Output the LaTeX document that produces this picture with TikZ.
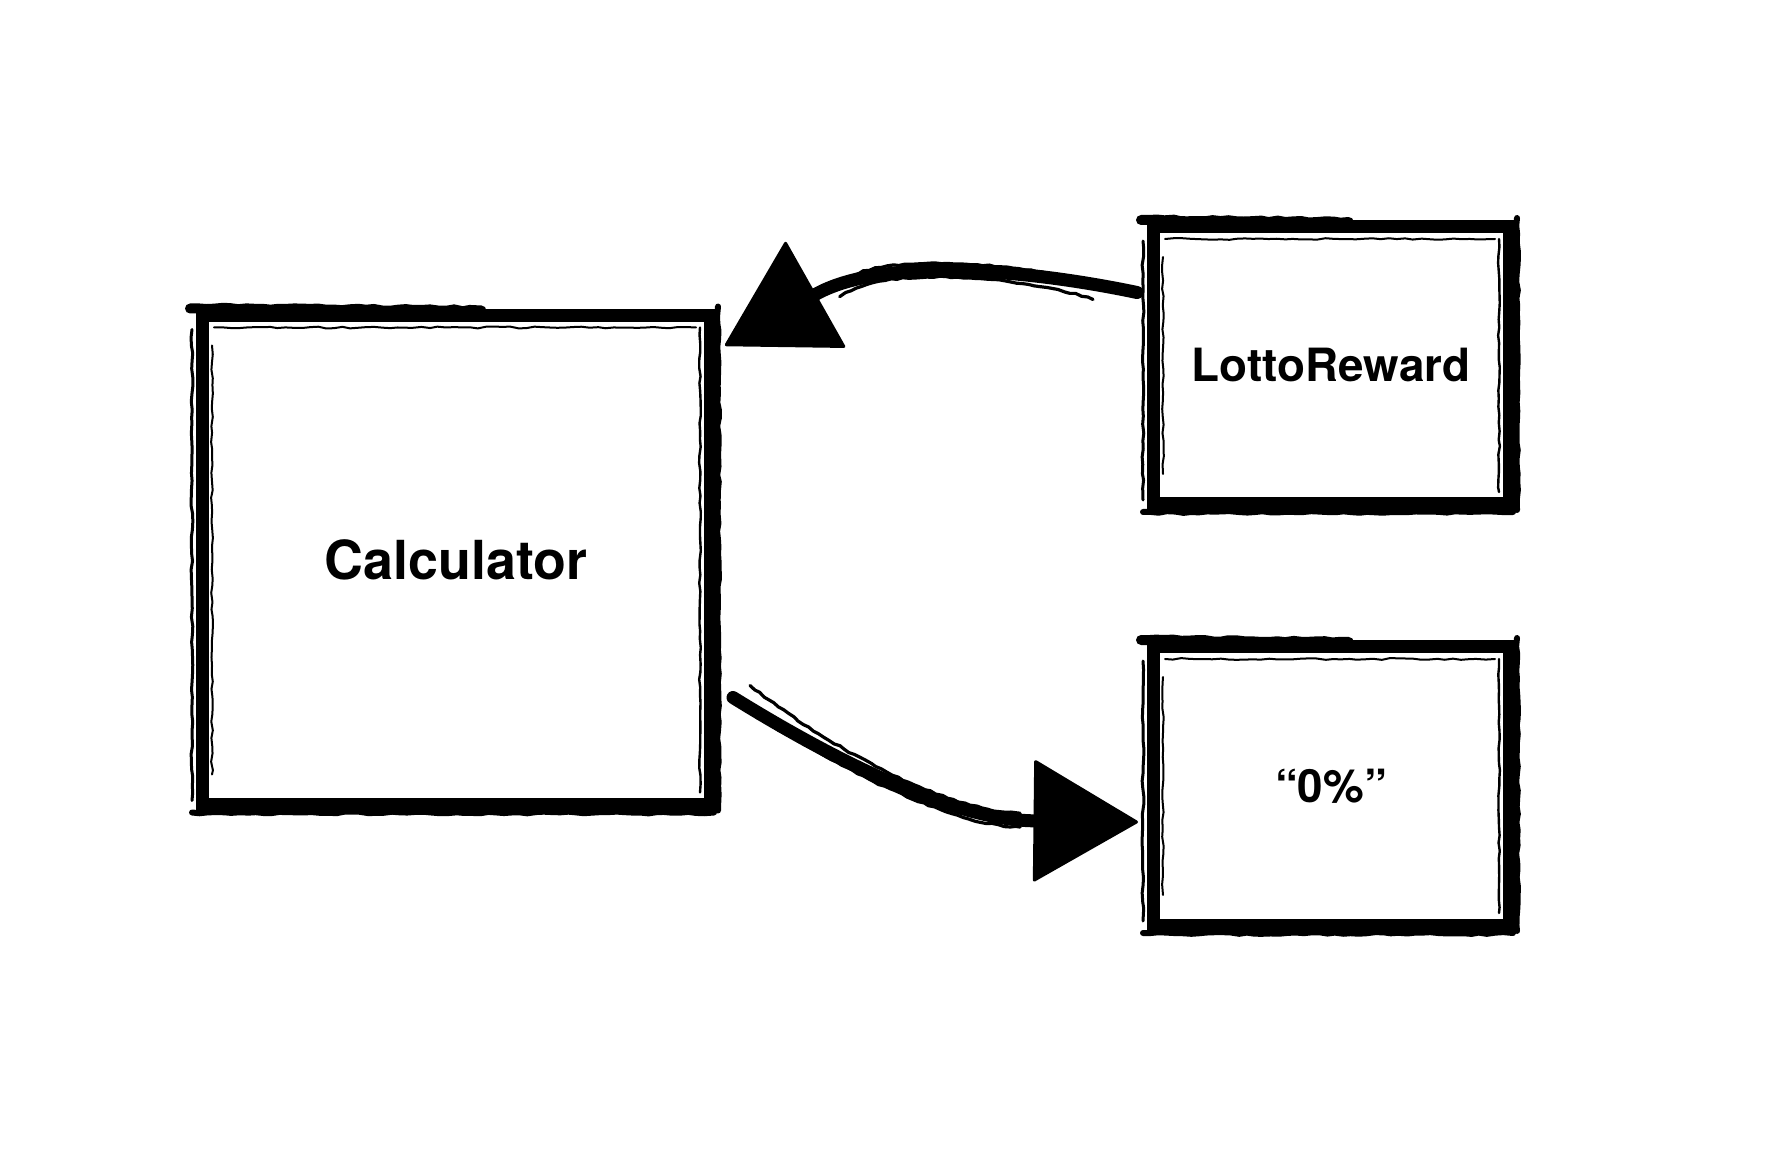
\documentclass[tikz,border=0pt]{standalone}
\usepackage{fontspec}
\setmainfont{TeX Gyre Heros}
\usetikzlibrary{arrows.meta,calc,decorations.pathmorphing}
\begin{document}
\begin{tikzpicture}[x=0.5pt,y=-0.5pt,
  sketchbox/.style={draw=black, line width=6.5pt, outer sep=0pt, inner sep=0pt, fill=white,
    font=\bfseries\fontsize{22.9}{28}\selectfont, text=black},
  rough/.style={line width=#1, line cap=round, decorate,
    decoration={random steps, segment length=4pt, amplitude=0.45pt}},
  shaft/.style={line width=6.5pt, line cap=round,
    -{Triangle[length=53pt 0 1, width=61.5pt 0 1, line width=1.5pt, round]}},
  brush/.style={line width=1.6pt, line cap=round, decorate,
    decoration={random steps, segment length=3pt, amplitude=0.4pt}},
]
\pgfmathsetseed{7}
\useasboundingbox (0,0) rectangle (1778,1170);

\node[sketchbox, minimum width=254pt, minimum height=244.5pt,
  font=\bfseries\fontsize{26.9}{32}\selectfont] (calc) at (456,560) {Calculator};
\node[sketchbox, minimum width=178pt, minimum height=138.5pt] (lotto) at (1331,365.5) {LottoReward};
\node[sketchbox, minimum width=178pt, minimum height=139pt] (zero) at (1331,786) {“0\%”};

\foreach \n in {calc,lotto,zero} {
  \draw[rough=5pt] ($(\n.north west)+(-12,-7)$) -- ($(\n.north west)!0.55!(\n.north east)+(0,-5)$);
  \draw[rough=1.5pt] ($(\n.north west)+(-10,14)$) -- ($(\n.south west)+(-10,-4)$);
  \draw[rough=1pt] ($(\n.north west)+(10,30)$) -- ($(\n.south west)+(10,-30)$);
  \draw[rough=3pt] ($(\n.north east)+(8,-9)$) -- ($(\n.south east)+(8,6)$);
  \draw[rough=1.2pt] ($(\n.north east)+(-10,12)$) -- ($(\n.south east)+(-10,-12)$);
  \draw[rough=3pt] ($(\n.south west)+(-10,8)$) -- ($(\n.south east)+(4,8)$);
  \draw[rough=1pt] ($(\n.north west)+(12,12)$) -- ($(\n.north east)+(-14,12)$);
}

\draw[shaft] ($(lotto.west)+(-16,-73)$) .. controls (1020,268) and (880,258) .. ($(calc.north east)+(15,30)$);
\draw[shaft] ($(calc.south east)+(23,-107)$) .. controls (850,770) and (960,820) .. ($(zero.west)+(-15,36)$);

\begin{scope}[transform canvas={yshift=3.5pt}]
  \draw[brush] ($(lotto.west)+(-40,-70)$) .. controls (1020,268) and (880,258) .. (840,290);
  \draw[brush] ($(calc.south east)+(40,-112)$) .. controls (850,770) and (960,820) .. (1020,820);
\end{scope}
\begin{scope}[transform canvas={yshift=-3.5pt}]
  \draw[brush] ($(lotto.west)+(-60,-73)$) .. controls (1020,268) and (880,258) .. (840,290);
  \draw[brush] ($(calc.south east)+(23,-110)$) .. controls (850,770) and (960,820) .. (1020,820);
\end{scope}
\end{tikzpicture}
\end{document}
